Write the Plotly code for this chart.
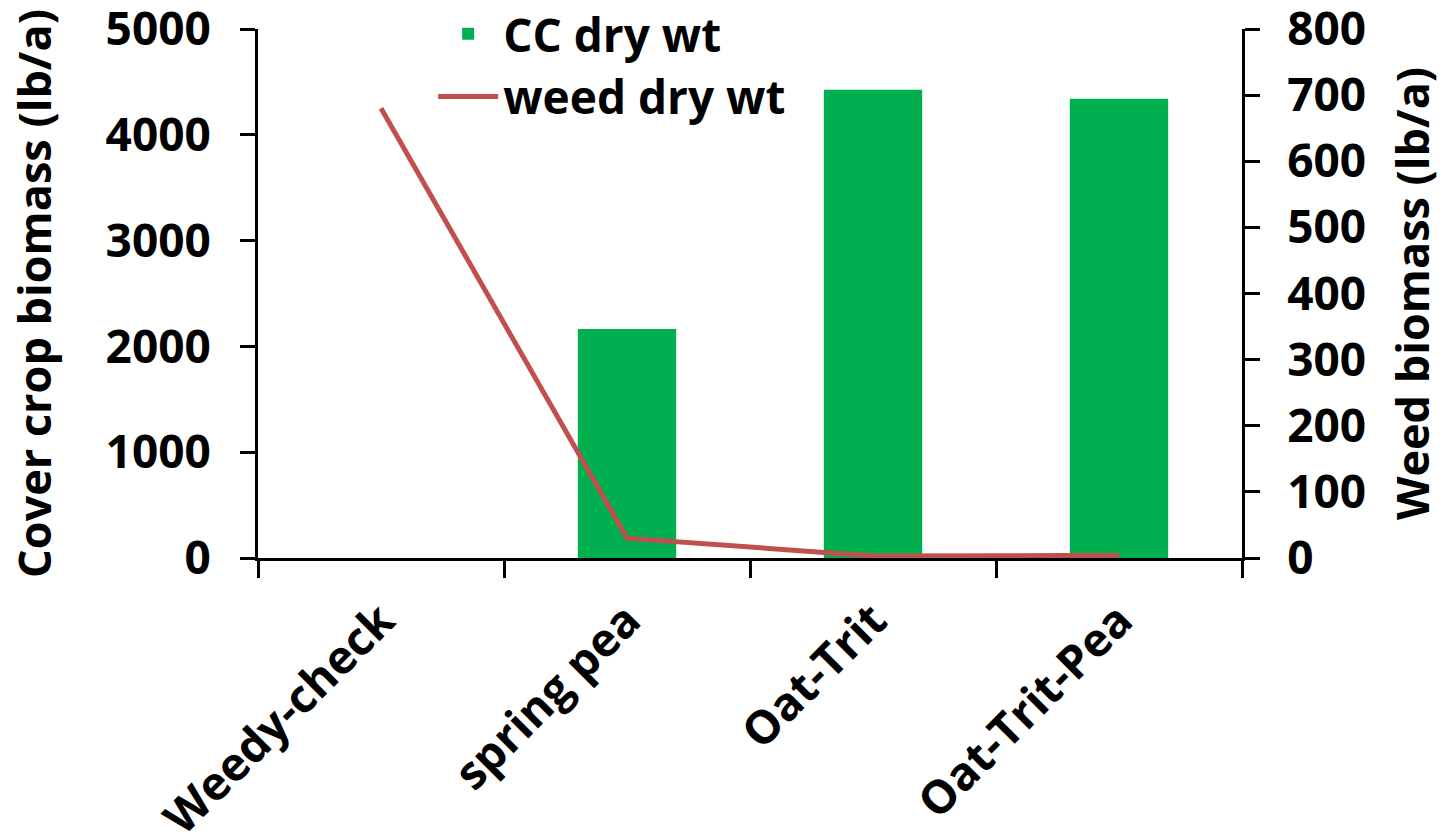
import plotly.graph_objects as go

categories = ["Weedy-check", "spring pea", "Oat-Trit", "Oat-Trit-Pea"]
cc_dry_wt = [0, 2165, 4425, 4340]
weed_dry_wt = [680, 30, 3, 4]
left_ticks = [0, 1000, 2000, 3000, 4000, 5000]
right_ticks = [0, 100, 200, 300, 400, 500, 600, 700, 800]

FONT = "Open Sans"
fs = 46

fig = go.Figure()
fig.add_trace(go.Bar(x=categories, y=cc_dry_wt, name="CC dry wt",
                     marker=dict(color="#00B050", line=dict(width=0)), width=0.4))
fig.add_trace(go.Scatter(x=categories, y=weed_dry_wt, name="weed dry wt", yaxis="y2",
                         mode="lines", line=dict(color="#C0504D", width=5)))

axis_common = dict(showgrid=False, zeroline=False, showline=True, linecolor="black",
                   linewidth=3, ticks="outside", ticklen=15, tickwidth=3, tickcolor="black",
                   automargin=False, ticklabeloverflow="allow",
                   tickfont=dict(family=FONT, size=fs, color="black", weight="bold"))

fig.update_layout(
    width=1444, height=834,
    margin=dict(l=258, r=202, t=29, b=276, autoexpand=False),
    paper_bgcolor="white", plot_bgcolor="white",
    font=dict(family=FONT, color="black"),
    bargap=0.6,
    xaxis=dict(axis_common, tickson="boundaries", ticklen=17, tickangle=-45,
               ticklabelstandoff=14, range=[-0.5, 3.5]),
    yaxis=dict(axis_common, range=[0, 5000], tickvals=left_ticks, ticklabelstandoff=20,
               title=dict(text="Cover crop biomass (lb/a)", standoff=40,
                          font=dict(family=FONT, size=45, color="black", weight="bold"))),
    yaxis2=dict(axis_common, overlaying="y", side="right", range=[0, 800], tickvals=right_ticks,
                ticklabelstandoff=18,
                title=dict(text="Weed biomass (lb/a)", standoff=33,
                           font=dict(family=FONT, size=45, color="black", weight="bold"))),
    legend=dict(x=0.178, y=1.06, xanchor="left", yanchor="top", bgcolor="rgba(0,0,0,0)",
                font=dict(family=FONT, size=fs, color="black", weight="bold"),
                itemwidth=60, tracegroupgap=0),
    showlegend=True,
)

fig.write_html("out.html")
